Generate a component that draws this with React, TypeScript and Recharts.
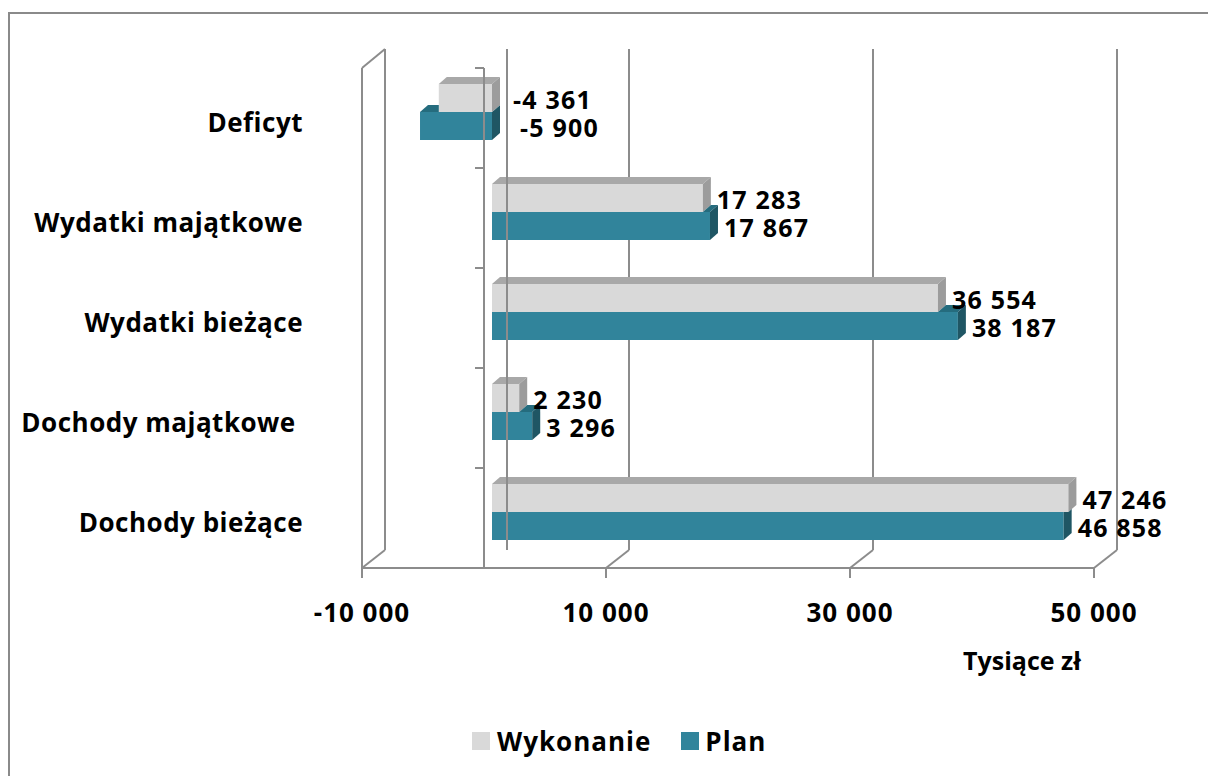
import React from 'react';
import {
  BarChart, Bar, XAxis, YAxis, CartesianGrid, ReferenceLine, ReferenceArea, LabelList, Legend, Label,
} from 'recharts';

const categories = ['Deficyt', 'Wydatki majątkowe', 'Wydatki bieżące', 'Dochody majątkowe\u00a0', 'Dochody bieżące'];
const wykonanie = [-4361, 17283, 36554, 2230, 47246];
const plan = [-5900, 17867, 38187, 3296, 46858];
const xTicks = [-10000, 10000, 30000, 50000];

const data = categories.map((name, i) => ({ name, wykonanie: wykonanie[i], plan: plan[i] }));

const FONT = '"Open Sans", "Noto Sans", sans-serif';
const GRID = '#8c8c8c';
// 3d offsets relative to the bar plane
const FRONT = { dx: -8, dy: 6 };
const BACK = { dx: 15, dy: -13 };
const DEPTH = { dx: 8, dy: 7 };

const GRAY = { front: '#d9d9d9', top: '#a8a8a8', side: '#9c9c9c' };
const TEAL = { front: '#31849b', top: '#256c7e', side: '#1f5664' };

const fmt = (v: number) => {
  const s = Math.abs(v).toString().replace(/\B(?=(\d{3})+(?!\d))/g, ' ');
  return v < 0 ? '-' + s : s;
};

const boxPath = (L: number, R: number, y: number, h: number) =>
  `${L},${y + h} ${L},${y} ${L + DEPTH.dx},${y - DEPTH.dy} ${R + DEPTH.dx},${y - DEPTH.dy} ${R + DEPTH.dx},${y + h - DEPTH.dy} ${R},${y + h}`;

const Box = ({ L, R, y, h, c }: any) => (
  <g>
    <rect x={L} y={y} width={R - L} height={h} fill={c.front} />
    <polygon points={`${L},${y} ${L + DEPTH.dx},${y - DEPTH.dy} ${R + DEPTH.dx},${y - DEPTH.dy} ${R},${y}`} fill={c.top} />
    <polygon points={`${R},${y} ${R + DEPTH.dx},${y - DEPTH.dy} ${R + DEPTH.dx},${y + h - DEPTH.dy} ${R},${y + h}`} fill={c.side} />
  </g>
);

const WykShape = (p: any) => {
  const L = Math.min(p.x, p.x + p.width);
  const R = Math.max(p.x, p.x + p.width);
  return <Box L={L} R={R} y={p.y} h={p.height} c={GRAY} />;
};

// plan bar sits under the wykonanie bar, so hide whatever the gray box covers
const PlanShape = (p: any) => {
  const L = Math.min(p.x, p.x + p.width);
  const R = Math.max(p.x, p.x + p.width);
  const pv = p.payload.plan;
  const wv = p.payload.wykonanie;
  const k = (R - L) / Math.abs(pv);
  const zero = pv >= 0 ? L : R;
  const gEnd = zero + wv * k;
  const gL = Math.min(zero, gEnd);
  const gR = Math.max(zero, gEnd);
  const id = `plan-mask-${p.index}`;
  return (
    <g>
      <mask id={id} maskUnits="userSpaceOnUse" x={0} y={0} width={1208} height={776}>
        <rect x={0} y={0} width={1208} height={776} fill="#fff" />
        <polygon points={boxPath(gL, gR, p.y - p.height, p.height)} fill="#000" />
      </mask>
      <g mask={`url(#${id})`}>
        <Box L={L} R={R} y={p.y} h={p.height} c={TEAL} />
      </g>
    </g>
  );
};

const makeLabel = (negShift: number) => (p: any) => {
  const v = Array.isArray(p.value) ? p.value[1] : p.value;
  const R = Math.max(p.x, p.x + p.width);
  const tx = v < 0 ? R + negShift : R + 14;
  return (
    <text x={tx} y={p.y + p.height / 2 + 1} dominantBaseline="central" fontFamily={FONT} fontWeight={700}
      fontSize={25} letterSpacing={1.2} fill="#000">
      {fmt(v)}
    </text>
  );
};

const GridLine3D = (p: any) => {
  const x = p.x1;
  const top = Math.min(p.y1, p.y2);
  const bot = Math.max(p.y1, p.y2);
  return (
    <g key={p.key} stroke={GRID} strokeWidth={2} fill="none">
      <line x1={x + BACK.dx} y1={top + BACK.dy} x2={x + BACK.dx} y2={bot + BACK.dy + 1} />
      <line x1={x + FRONT.dx} y1={bot + FRONT.dy} x2={x + BACK.dx} y2={bot + BACK.dy + 1} />
      <line x1={x + FRONT.dx} y1={bot + FRONT.dy} x2={x + FRONT.dx} y2={bot + FRONT.dy + 10} />
    </g>
  );
};

const WallShape = (p: any) => {
  const { x, y, width, height } = p;
  return (
    <g stroke={GRID} strokeWidth={2} fill="none">
      <line x1={x + FRONT.dx} y1={y + FRONT.dy} x2={x + FRONT.dx} y2={y + height + FRONT.dy} />
      <line x1={x + FRONT.dx} y1={y + FRONT.dy} x2={x + BACK.dx} y2={y + BACK.dy} />
      <line x1={x + FRONT.dx} y1={y + height + FRONT.dy} x2={x + width + FRONT.dx} y2={y + height + FRONT.dy} />
    </g>
  );
};

const ZeroShape = (p: any) => {
  const x = p.x1;
  const top = Math.min(p.y1, p.y2);
  const bot = Math.max(p.y1, p.y2);
  const step = (bot - top) / categories.length;
  const ticks = categories.map((_, i) => top + i * step).concat([bot]);
  return (
    <g stroke={GRID} strokeWidth={2} fill="none">
      <line x1={x + BACK.dx} y1={top + BACK.dy} x2={x + BACK.dx} y2={bot + BACK.dy + 1} />
      <line x1={x + FRONT.dx} y1={top + FRONT.dy} x2={x + FRONT.dx} y2={bot + FRONT.dy} />
      {ticks.map((t, i) => (
        <line key={i} x1={x + FRONT.dx - 9} y1={t + FRONT.dy} x2={x + FRONT.dx} y2={t + FRONT.dy} />
      ))}
    </g>
  );
};

const XTick = (p: any) => (
  <text x={p.x + FRONT.dx} y={p.y + 50} textAnchor="middle" dominantBaseline="central" fontFamily={FONT}
    fontWeight={700} fontSize={26} letterSpacing={1} fill="#000">
    {fmt(p.payload.value)}
  </text>
);

const YTick = (p: any) => (
  <text x={303} y={p.y + 10} textAnchor="end" dominantBaseline="central" fontFamily={FONT}
    fontWeight={700} fontSize={26} letterSpacing={0.5} fill="#000">
    {p.payload.value}
  </text>
);

const AxisTitle = (p: any) => {
  const vb = p.viewBox;
  return (
    <text x={vb.x + vb.width - 80} y={vb.y + 98} textAnchor="middle" dominantBaseline="central" fontFamily={FONT}
      fontWeight={700} fontSize={25} fill="#000">
      Tysiące zł
    </text>
  );
};

const LegendBox = () => (
  <div style={{ display: 'flex', alignItems: 'center', fontFamily: FONT, fontWeight: 700, fontSize: 26, letterSpacing: 1 }}>
    <span style={{ width: 18, height: 18, background: GRAY.front, marginRight: 7 }} />
    <span>Wykonanie</span>
    <span style={{ width: 18, height: 18, background: TEAL.front, marginLeft: 30, marginRight: 6 }} />
    <span>Plan</span>
  </div>
);

export default function App() {
  return (
    <div style={{ position: 'absolute', left: 0, top: 0, width: 1208, height: 776, overflow: 'hidden', background: '#fff' }}>
      <div style={{ position: 'absolute', left: 8, top: 12, width: 1300, height: 900, borderTop: '2px solid #8a8a8a', borderLeft: '2px solid #8a8a8a' }} />
      <div style={{ position: 'absolute', left: 0, top: 0 }}>
        <BarChart width={1208} height={776} layout="vertical" data={data}
          margin={{ top: 62, right: 106, bottom: 184, left: 310 }} barCategoryGap="22%" barGap={0}>
          <CartesianGrid horizontal={false} vertical={GridLine3D} />
          <ReferenceArea x1={-10000} x2={50000} shape={WallShape} />
          <XAxis type="number" domain={[-10000, 50000]} ticks={xTicks} height={30} axisLine={false} tickLine={false}
            tick={XTick} interval={0} tickSize={0} tickMargin={0}>
            <Label content={AxisTitle} />
          </XAxis>
          <YAxis type="category" dataKey="name" width={60} axisLine={false} tickLine={false} tick={YTick} interval={0} />
          <Bar dataKey="wykonanie" name="Wykonanie" fill={GRAY.front} shape={WykShape} isAnimationActive={false}>
            <LabelList dataKey="wykonanie" content={makeLabel(21)} />
          </Bar>
          <Bar dataKey="plan" name="Plan" fill={TEAL.front} shape={PlanShape} isAnimationActive={false}>
            <LabelList dataKey="plan" content={makeLabel(28)} />
          </Bar>
          <ReferenceLine x={0} shape={ZeroShape} />
          <Legend content={LegendBox} layout="horizontal" verticalAlign="middle" align="center"
            wrapperStyle={{ position: 'absolute', left: 472, top: 723, width: 320 }} />
        </BarChart>
      </div>
    </div>
  );
}
